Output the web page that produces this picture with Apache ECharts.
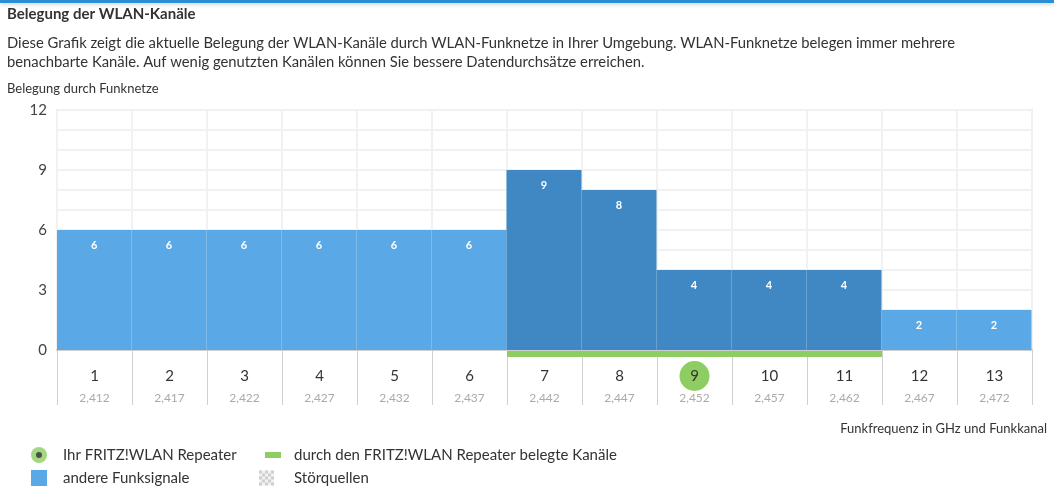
<!DOCTYPE html>
<html>
<head>
<meta charset="utf-8">
<script src="https://cdn.jsdelivr.net/npm/echarts@6/dist/echarts.min.js"></script>
<style>
html,body{margin:0;padding:0;background:#fff;}
#main{width:1054px;height:497px;}
</style>
</head>
<body>
<div id="main"></div>
<script>
var channels=['1','2','3','4','5','6','7','8','9','10','11','12','13'];
var freqs=['2,412','2,417','2,422','2,427','2,432','2,437','2,442','2,447','2,452','2,457','2,462','2,467','2,472'];
var networks=[6,6,6,6,6,6,9,8,4,4,4,2,2];//belegung pro kanal
var repeaterChannels=[0,0,0,0,0,0,1,1,1,1,1,0,0];//vom repeater belegt
var repeaterChannel='9';
var yTicks=[0,3,6,9,12];

var FONT='"Source Sans Pro", Lato, "Noto Sans", sans-serif';
var lightBlue='#5aa9e6', darkBlue='#3f88c4', green='#8ecd62';

function svgIcon(w,h,body){
	return 'image://data:image/svg+xml;charset=utf-8,'+encodeURIComponent('<svg xmlns="http://www.w3.org/2000/svg" width="'+w+'" height="'+h+'" viewBox="0 0 '+w+' '+h+'">'+body+'</svg>');
}
var checker='';
for(var r=0;r<5;r++){for(var c=0;c<5;c++){if((r+c)%2==0){checker+='<rect x="'+(c*3)+'" y="'+(r*3+0.5)+'" width="3" height="3" fill="#cfcfcf"/>';}}}
var iconRepeater=svgIcon(27,16,'<circle cx="8" cy="8" r="8" fill="'+green+'"/><circle cx="8" cy="8" r="3" fill="#222"/>');
var iconOther=svgIcon(27,16,'<rect x="0" y="0" width="16" height="16" fill="'+lightBlue+'"/>');
var iconBand=svgIcon(30,16,'<rect x="6" y="5" width="16" height="6" fill="'+green+'"/>');
var iconNoise=svgIcon(30,16,'<rect x="0" y="0.5" width="15" height="15" fill="#f2f2f2"/>'+checker);

var barData=[];
var bandData=[];
for(var i=0;i<networks.length;i++){
	barData.push({value:networks[i],itemStyle:{color:repeaterChannels[i]?darkBlue:lightBlue}});
	bandData.push(repeaterChannels[i]?1:null);
}

var myChart=echarts.init(document.getElementById('main'));
var option={
	animation:false,
	textStyle:{fontFamily:FONT},
	graphic:[{type:'rect',left:0,top:0,shape:{width:1054,height:3},style:{fill:'#2b8dd6',shadowBlur:4,shadowColor:'rgba(0,0,0,0.25)',shadowOffsetY:1}}],
	title:[
		{text:'Belegung der WLAN-Kanäle',left:7,top:7,padding:0,textStyle:{fontFamily:FONT,fontSize:15,fontWeight:'bold',color:'#333'}},
		{text:'Diese Grafik zeigt die aktuelle Belegung der WLAN-Kanäle durch WLAN-Funknetze in Ihrer Umgebung. WLAN-Funknetze belegen immer mehrere\nbenachbarte Kanäle. Auf wenig genutzten Kanälen können Sie bessere Datendurchsätze erreichen.',
			left:7,top:34,padding:0,textStyle:{fontFamily:FONT,fontSize:14.8,fontWeight:'normal',color:'#333',lineHeight:19}},
		{text:'Belegung durch Funknetze',left:7,top:82,padding:0,textStyle:{fontFamily:FONT,fontSize:13,fontWeight:'normal',color:'#333'}}
	],
	legend:[
		{orient:'vertical',left:31,top:447,padding:0,itemWidth:27,itemHeight:16,itemGap:7,selectedMode:false,
			textStyle:{fontFamily:FONT,fontSize:15,color:'#333'},
			data:[{name:'Ihr FRITZ!WLAN Repeater',icon:iconRepeater},{name:'andere Funksignale',icon:iconOther}]},
		{orient:'vertical',left:259,top:447,padding:0,itemWidth:30,itemHeight:16,itemGap:7,selectedMode:false,
			textStyle:{fontFamily:FONT,fontSize:15,color:'#333'},
			data:[{name:'durch den FRITZ!WLAN Repeater belegte Kanäle',icon:iconBand},{name:'Störquellen',icon:iconNoise}]}
	],
	grid:[
		{left:57,right:22,top:110,height:240,show:true,borderColor:'#e6e6e6',borderWidth:2,backgroundColor:'#fff'},
		{left:57,right:22,top:351,height:6}
	],
	xAxis:[
		{type:'category',gridIndex:0,data:channels,boundaryGap:true,
			name:'Funkfrequenz in GHz und Funkkanal',nameLocation:'end',nameGap:15,
			nameTextStyle:{fontFamily:FONT,fontSize:13,color:'#333',align:'right',verticalAlign:'top',padding:[72,0,0,0]},
			axisLine:{show:true,lineStyle:{color:'#cfcfcf',width:2}},
			axisTick:{show:true,length:55,lineStyle:{color:'#d0d0d0',width:1}},
			splitLine:{show:true,lineStyle:{color:'#f1f1f1',width:2}},
			axisLabel:{margin:11,interval:0,
				formatter:function(v,idx){
					var n=v==repeaterChannel?'{c|'+v+'}':'{n|'+v+'}';
					return n+'\n{f|'+freqs[idx]+'}';
				},
				rich:{
					n:{fontFamily:FONT,fontSize:15,color:'#333',height:30,lineHeight:30,width:30,align:'center'},
					c:{fontFamily:FONT,fontSize:15,color:'#333',height:30,lineHeight:30,width:30,align:'center',backgroundColor:green,borderRadius:15},
					f:{fontFamily:FONT,fontSize:12,color:'#aaa',lineHeight:14,align:'center'}
				}
			}
		},
		{type:'category',gridIndex:1,data:channels,boundaryGap:true,show:false}
	],
	yAxis:[
		{type:'value',gridIndex:0,min:0,max:12,interval:1,
			axisLine:{show:false},axisTick:{show:false},
			splitLine:{show:true,lineStyle:{color:'#f1f1f1',width:2}},
			axisLabel:{margin:10,fontFamily:FONT,fontSize:15,color:'#444',
				formatter:function(v){return yTicks.indexOf(v)>=0?v:'';}}
		},
		{type:'value',gridIndex:1,min:0,max:1,show:false}
	],
	series:[
		{name:'andere Funksignale',type:'bar',xAxisIndex:0,yAxisIndex:0,barWidth:'100%',barGap:'0%',
			label:{show:true,position:'insideTop',distance:10,color:'#fff',fontFamily:FONT,fontSize:11,fontWeight:'bold'},
			data:barData},
		{name:'durch den FRITZ!WLAN Repeater belegte Kanäle',type:'bar',xAxisIndex:1,yAxisIndex:1,barWidth:'100%',
			itemStyle:{color:green},data:bandData},
		{name:'Ihr FRITZ!WLAN Repeater',type:'scatter',xAxisIndex:0,yAxisIndex:0,itemStyle:{color:green},data:[]},
		{name:'Störquellen',type:'bar',xAxisIndex:0,yAxisIndex:0,itemStyle:{color:'#ccc'},data:[]}
	]
};
myChart.setOption(option);
</script>
</body>
</html>
